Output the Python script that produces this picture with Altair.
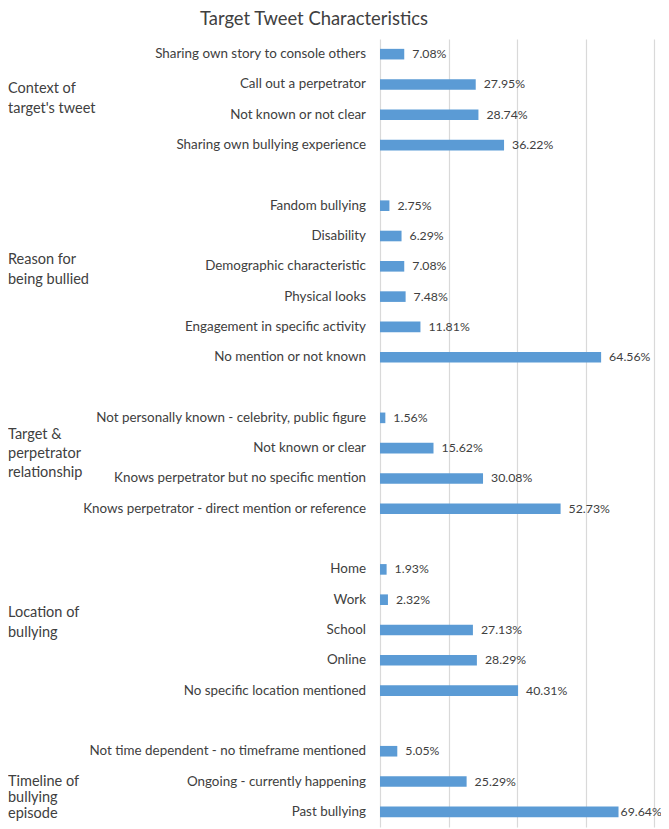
import altair as alt
import pandas as pd

title_text = "Target Tweet Characteristics"

groups = [
    "Context of\ntarget's tweet",
    "Reason for\nbeing bullied",
    "Target &\nperpetrator\nrelationship",
    "Location of\nbullying",
    "Timeline of\nbullying\nepisode",
]

cats_1 = ["Sharing own story to console others", "Call out a perpetrator",
          "Not known or not clear", "Sharing own bullying experience"]
vals_1 = [7.08, 27.95, 28.74, 36.22]

cats_2 = ["Fandom bullying", "Disability", "Demographic characteristic",
          "Physical looks", "Engagement in specific activity", "No mention or not known"]
vals_2 = [2.75, 6.29, 7.08, 7.48, 11.81, 64.56]

cats_3 = ["Not personally known - celebrity, public figure", "Not known or clear",
          "Knows perpetrator but no specific mention",
          "Knows perpetrator - direct mention or reference"]
vals_3 = [1.56, 15.62, 30.08, 52.73]

cats_4 = ["Home", "Work", "School", "Online", "No specific location mentioned"]
vals_4 = [1.93, 2.32, 27.13, 28.29, 40.31]

cats_5 = ["Not time dependent - no timeframe mentioned", "Ongoing - currently happening",
          "Past bullying"]
vals_5 = [5.05, 25.29, 69.64]

grid_values = [0, 20, 40, 60, 80]

# which category row each group label is anchored to
anchor_cats = ["Call out a perpetrator", "Demographic characteristic",
               "Not known or clear", "School", "Ongoing - currently happening"]

# ---- build table ----
all_cats = [cats_1, cats_2, cats_3, cats_4, cats_5]
all_vals = [vals_1, vals_2, vals_3, vals_4, vals_5]
rows = []
order = []
for gi, (cs, vs) in enumerate(zip(all_cats, all_vals)):
    for c, v in zip(cs, vs):
        k = f"{gi}|{c}"
        order.append(k)
        rows.append({"key": k, "label": c, "value": v, "text": f"{v:.2f}%"})
    if gi < len(all_cats) - 1:
        order.append(f"gap{gi}")
df = pd.DataFrame(rows)

FONT = "Lato"
TXT = "#404040"

yenc = alt.Y("key:N", scale=alt.Scale(domain=order, paddingInner=0.65, paddingOuter=0.325),
             axis=None, sort=None)
xscale = alt.Scale(domain=[0, 80], nice=False, zero=True)

base = alt.Chart(df)

bars = base.mark_bar(color="#5b9bd5").encode(
    x=alt.X("value:Q", scale=xscale,
            axis=alt.Axis(values=grid_values, labels=False, ticks=False, domain=False,
                          title=None, grid=True, gridColor="#d9d9d9", gridWidth=1.2)),
    y=yenc,
)

cat_labels = base.mark_text(align="right", baseline="middle", dx=-14, font=FONT,
                            fontSize=13.4, color=TXT).encode(
    x=alt.value(0), y=yenc, text="label:N")

# value labels; the longest bar's label sits a little closer so it stays on the canvas
val_near = base.transform_filter("datum.value <= 65").mark_text(
    align="left", baseline="middle", dx=8, font=FONT, fontSize=12.3, color=TXT).encode(
    x=alt.X("value:Q", scale=xscale), y=yenc, text="text:N")
val_far = base.transform_filter("datum.value > 65").mark_text(
    align="left", baseline="middle", dx=2, font=FONT, fontSize=12.3, color=TXT).encode(
    x=alt.X("value:Q", scale=xscale), y=yenc, text="text:N")

# label offsets (layout) per group: first line relative to anchor row
g_dy = [5, -6, -13, -17, 0]
g_lh = [20, 19.5, 19, 20, 16]

layers = [bars, cat_labels, val_near, val_far]
for gi, g in enumerate(groups):
    gdf = pd.DataFrame({"key": [f"{gi}|{anchor_cats[gi]}"], "g": [g]})
    layers.append(
        alt.Chart(gdf).mark_text(align="left", baseline="middle", lineBreak="\n",
                                 lineHeight=g_lh[gi], dy=g_dy[gi], font=FONT,
                                 fontSize=14.5, color=TXT).encode(
            x=alt.value(-372), y=yenc, text="g:N")
    )

chart = alt.layer(*layers).properties(
    width=274,
    height=788,
    title=alt.TitleParams(title_text, anchor="start", dx=192, offset=11, font=FONT,
                          fontSize=18.4, fontWeight="normal", color=TXT),
    autosize=alt.AutoSizeParams(type="none"),
    padding={"left": 372, "top": 31, "right": 7, "bottom": 2},
).configure_view(stroke=None)

chart.save("out.html", embed_options={"renderer": "svg", "actions": False})
